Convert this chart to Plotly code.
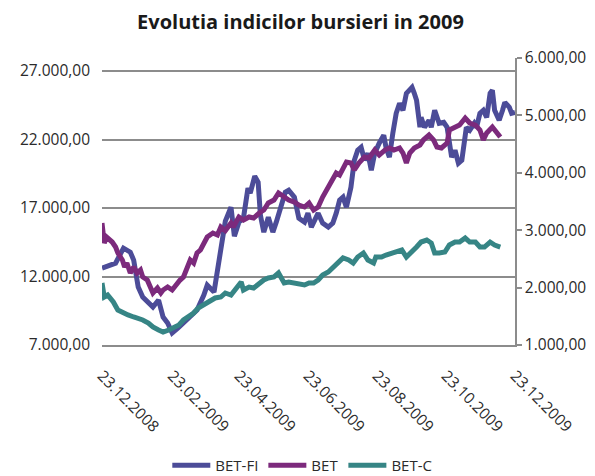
import plotly.graph_objects as go

# ---------------- data ----------------
betfi_dates = ["2008-12-23", "2009-01-04", "2009-01-11", "2009-01-17", "2009-01-20", "2009-01-24",
               "2009-01-28", "2009-02-02", "2009-02-06", "2009-02-11", "2009-02-15", "2009-02-19",
               "2009-02-23", "2009-02-28", "2009-03-05", "2009-03-11", "2009-03-17", "2009-03-23",
               "2009-03-26", "2009-04-01", "2009-04-05", "2009-04-09", "2009-04-11", "2009-04-16",
               "2009-04-19", "2009-04-23", "2009-04-27", "2009-05-01", "2009-05-03", "2009-05-07",
               "2009-05-10", "2009-05-12", "2009-05-15", "2009-05-19", "2009-05-23", "2009-05-26",
               "2009-05-30", "2009-06-03", "2009-06-06", "2009-06-11", "2009-06-15", "2009-06-20",
               "2009-06-23", "2009-06-26", "2009-07-02", "2009-07-06", "2009-07-11", "2009-07-15",
               "2009-07-18", "2009-07-21", "2009-07-24", "2009-07-27", "2009-07-31", "2009-08-03",
               "2009-08-06", "2009-08-09", "2009-08-12", "2009-08-15", "2009-08-18", "2009-08-21",
               "2009-08-25", "2009-08-29", "2009-08-31", "2009-09-03", "2009-09-06", "2009-09-09",
               "2009-09-12", "2009-09-15", "2009-09-18", "2009-09-23", "2009-09-25", "2009-09-27",
               "2009-09-30", "2009-10-01", "2009-10-04", "2009-10-08", "2009-10-10", "2009-10-13",
               "2009-10-17", "2009-10-21", "2009-10-24", "2009-10-26", "2009-10-28", "2009-10-31",
               "2009-11-03", "2009-11-06", "2009-11-09", "2009-11-10", "2009-11-13", "2009-11-17",
               "2009-11-19", "2009-11-22", "2009-11-25", "2009-11-28", "2009-12-01", "2009-12-03",
               "2009-12-05", "2009-12-09", "2009-12-12", "2009-12-14", "2009-12-18", "2009-12-20",
               "2009-12-23"]
betfi_values = [12613, 12978, 14071, 13780, 13197, 11228,
                10499, 10062, 9770, 10281, 9041, 8604,
                7875, 8239, 8604, 9041, 9552, 10645,
                11374, 10864, 13051, 15092, 16040, 17060,
                14946, 15967, 16258, 18445, 18081, 19320,
                18883, 16477, 15238, 16331, 15238, 15967,
                17206, 18154, 18300, 17789, 16258, 15967,
                16623, 15602, 16623, 15894, 15602, 15894,
                16623, 17571, 17789, 17060, 18518, 20487,
                21216, 21434, 20487, 20997, 19758, 20997,
                21726, 22309, 21434, 20705, 22455, 23913,
                24642, 24132, 25371, 25808, 25371, 24861,
                22892, 23621, 22892, 23403, 22892, 24132,
                23184, 23257, 22892, 21434, 20705, 21216,
                20268, 20487, 21945, 22892, 22674, 23184,
                22892, 23913, 24132, 23621, 25371, 25590,
                24132, 23403, 24132, 24715, 24350, 23913,
                23986]

bet_dates = ["2008-12-23", "2008-12-25", "2008-12-27", "2009-01-01", "2009-01-04", "2009-01-06",
             "2009-01-10", "2009-01-12", "2009-01-14", "2009-01-17", "2009-01-20", "2009-01-23",
             "2009-01-26", "2009-01-28", "2009-02-01", "2009-02-04", "2009-02-06", "2009-02-10",
             "2009-02-13", "2009-02-15", "2009-02-19", "2009-02-23", "2009-02-26", "2009-03-02",
             "2009-03-05", "2009-03-09", "2009-03-11", "2009-03-14", "2009-03-17", "2009-03-20",
             "2009-03-23", "2009-03-26", "2009-03-31", "2009-04-04", "2009-04-07", "2009-04-11",
             "2009-04-16", "2009-04-18", "2009-04-23", "2009-04-27", "2009-05-02", "2009-05-06",
             "2009-05-11", "2009-05-15", "2009-05-19", "2009-05-24", "2009-05-28", "2009-06-02",
             "2009-06-06", "2009-06-11", "2009-06-15", "2009-06-20", "2009-06-24", "2009-06-28",
             "2009-07-02", "2009-07-06", "2009-07-11", "2009-07-15", "2009-07-18", "2009-07-21",
             "2009-07-24", "2009-07-27", "2009-07-31", "2009-08-03", "2009-08-07", "2009-08-12",
             "2009-08-16", "2009-08-21", "2009-08-25", "2009-08-30", "2009-09-03", "2009-09-07",
             "2009-09-12", "2009-09-15", "2009-09-18", "2009-09-21", "2009-09-25", "2009-09-30",
             "2009-10-03", "2009-10-08", "2009-10-12", "2009-10-15", "2009-10-19", "2009-10-24",
             "2009-10-26", "2009-10-31", "2009-11-04", "2009-11-09", "2009-11-13", "2009-11-18",
             "2009-11-22", "2009-11-25", "2009-11-28", "2009-12-03", "2009-12-07", "2009-12-10"]
bet_values = [3125, 2777, 2881, 2794, 2707, 2603,
              2481, 2359, 2428, 2254, 2359, 2254,
              2307, 2185, 2132, 2010, 1906, 1993,
              1906, 1958, 2010, 1958, 2045, 2132,
              2185, 2359, 2481, 2428, 2603, 2655,
              2777, 2881, 2951, 2916, 3056, 2993,
              3125, 3056, 3230, 3178, 3230, 3212,
              3299, 3352, 3474, 3526, 3648, 3578,
              3526, 3491, 3439, 3404, 3474, 3352,
              3404, 3578, 3752, 3874, 3996, 3961,
              4101, 4188, 4170, 4049, 4170, 4275,
              4258, 4397, 4310, 4397, 4432, 4397,
              4432, 4345, 4170, 4345, 4432, 4484,
              4571, 4658, 4571, 4449, 4432, 4519,
              4745, 4797, 4832, 4954, 4867, 4832,
              4745, 4571, 4693, 4797, 4710, 4623]

betc_dates = ["2008-12-23", "2008-12-25", "2008-12-28", "2009-01-02", "2009-01-06", "2009-01-11",
              "2009-01-15", "2009-01-20", "2009-01-24", "2009-01-28", "2009-02-02", "2009-02-06",
              "2009-02-11", "2009-02-15", "2009-02-20", "2009-02-24", "2009-03-01", "2009-03-05",
              "2009-03-09", "2009-03-14", "2009-03-18", "2009-03-23", "2009-03-27", "2009-04-02",
              "2009-04-07", "2009-04-11", "2009-04-16", "2009-04-20", "2009-04-25", "2009-04-27",
              "2009-05-02", "2009-05-06", "2009-05-11", "2009-05-15", "2009-05-19", "2009-05-24",
              "2009-05-28", "2009-06-02", "2009-06-06", "2009-06-11", "2009-06-15", "2009-06-20",
              "2009-06-24", "2009-06-28", "2009-07-02", "2009-07-06", "2009-07-11", "2009-07-15",
              "2009-07-20", "2009-07-24", "2009-07-29", "2009-08-02", "2009-08-06", "2009-08-11",
              "2009-08-15", "2009-08-20", "2009-08-22", "2009-08-27", "2009-08-31", "2009-09-05",
              "2009-09-09", "2009-09-14", "2009-09-18", "2009-09-23", "2009-09-27", "2009-10-01",
              "2009-10-06", "2009-10-10", "2009-10-13", "2009-10-17", "2009-10-22", "2009-10-26",
              "2009-10-31", "2009-11-04", "2009-11-09", "2009-11-13", "2009-11-18", "2009-11-22",
              "2009-11-26", "2009-12-01", "2009-12-05", "2009-12-10"]
betc_values = [2080, 1836, 1871, 1749, 1610, 1557,
               1523, 1488, 1470, 1436, 1383, 1314,
               1261, 1226, 1261, 1296, 1348, 1436,
               1488, 1557, 1645, 1697, 1749, 1819,
               1836, 1906, 1871, 1958, 2097, 1958,
               2010, 1993, 2080, 2132, 2167, 2185,
               2254, 2080, 2097, 2080, 2080, 2045,
               2080, 2080, 2132, 2219, 2272, 2341,
               2428, 2516, 2481, 2428, 2533, 2603,
               2481, 2428, 2533, 2533, 2568, 2603,
               2620, 2655, 2533, 2620, 2707, 2794,
               2829, 2777, 2603, 2603, 2620, 2742,
               2794, 2794, 2864, 2794, 2794, 2707,
               2707, 2794, 2742, 2707]

x_tick_dates = ["2008-12-23", "2009-02-23", "2009-04-23", "2009-06-23",
                "2009-08-23", "2009-10-23", "2009-12-23"]
x_tick_labels = ["23.12.2008", "23.02.2009", "23.04.2009", "23.06.2009",
                 "23.08.2009", "23.10.2009", "23.12.2009"]

title_text = "Evolutia indicilor bursieri in 2009"

# ---------------- figure ----------------
FONT = "Open Sans"
GRID = "#8c8c8c"
TXT = "#2b2b2b"
TICK_SIZE = 15.5

fig = go.Figure()
fig.add_trace(go.Scatter(x=betfi_dates, y=betfi_values, name="BET-FI", mode="lines",
                         line=dict(color="#4c4c98", width=5), yaxis="y"))
fig.add_trace(go.Scatter(x=bet_dates, y=bet_values, name="BET", mode="lines",
                         line=dict(color="#7c2a7c", width=5), yaxis="y2"))
fig.add_trace(go.Scatter(x=betc_dates, y=betc_values, name="BET-C", mode="lines",
                         line=dict(color="#368585", width=5), yaxis="y2"))

fig.update_layout(
    width=595, height=476,
    margin=dict(l=102, r=80, t=58, b=131, autoexpand=False),
    paper_bgcolor="white", plot_bgcolor="white",
    separators=",.",
    font=dict(family=FONT, size=15, color=TXT),
    title=dict(text=title_text, x=0.505, xanchor="center", y=0.953, yanchor="middle",
               font=dict(family=FONT, size=20, color="#1a1a1a", weight="bold")),
    showlegend=True,
    legend=dict(orientation="h", x=0.485, xanchor="center", y=-0.42, yanchor="middle",
                font=dict(family=FONT, size=15, color=TXT), itemwidth=38,
                bgcolor="rgba(0,0,0,0)"),
    xaxis=dict(type="date", range=["2008-12-23", "2009-12-23"], automargin=False,
               tickmode="array", tickvals=x_tick_dates, ticktext=x_tick_labels,
               tickangle=45, showgrid=False, showline=True, linecolor=GRID, linewidth=1.5,
               ticks="", zeroline=False, ticklabelstandoff=14,
               tickfont=dict(family=FONT, size=TICK_SIZE, color=TXT)),
    yaxis=dict(range=[7000, 27950], tick0=7000, dtick=5000, tickformat=",.2f",
               automargin=False,
               showgrid=True, gridcolor=GRID, gridwidth=1.5, zeroline=False,
               showline=False, ticks="", ticklabelstandoff=11,
               tickfont=dict(family=FONT, size=TICK_SIZE, color=TXT)),
    yaxis2=dict(range=[1000, 6000], tick0=1000, dtick=1000, tickformat=",.2f",
                automargin=False,
                overlaying="y", side="right", showgrid=False, zeroline=False,
                showline=True, linecolor=GRID, linewidth=1.5,
                ticks="outside", ticklen=5, tickcolor=GRID, tickwidth=1.5,
                tickfont=dict(family=FONT, size=TICK_SIZE, color=TXT)),
)

fig.write_html("out.html", config={"displayModeBar": False},
               post_script="document.body.style.margin='0';")
